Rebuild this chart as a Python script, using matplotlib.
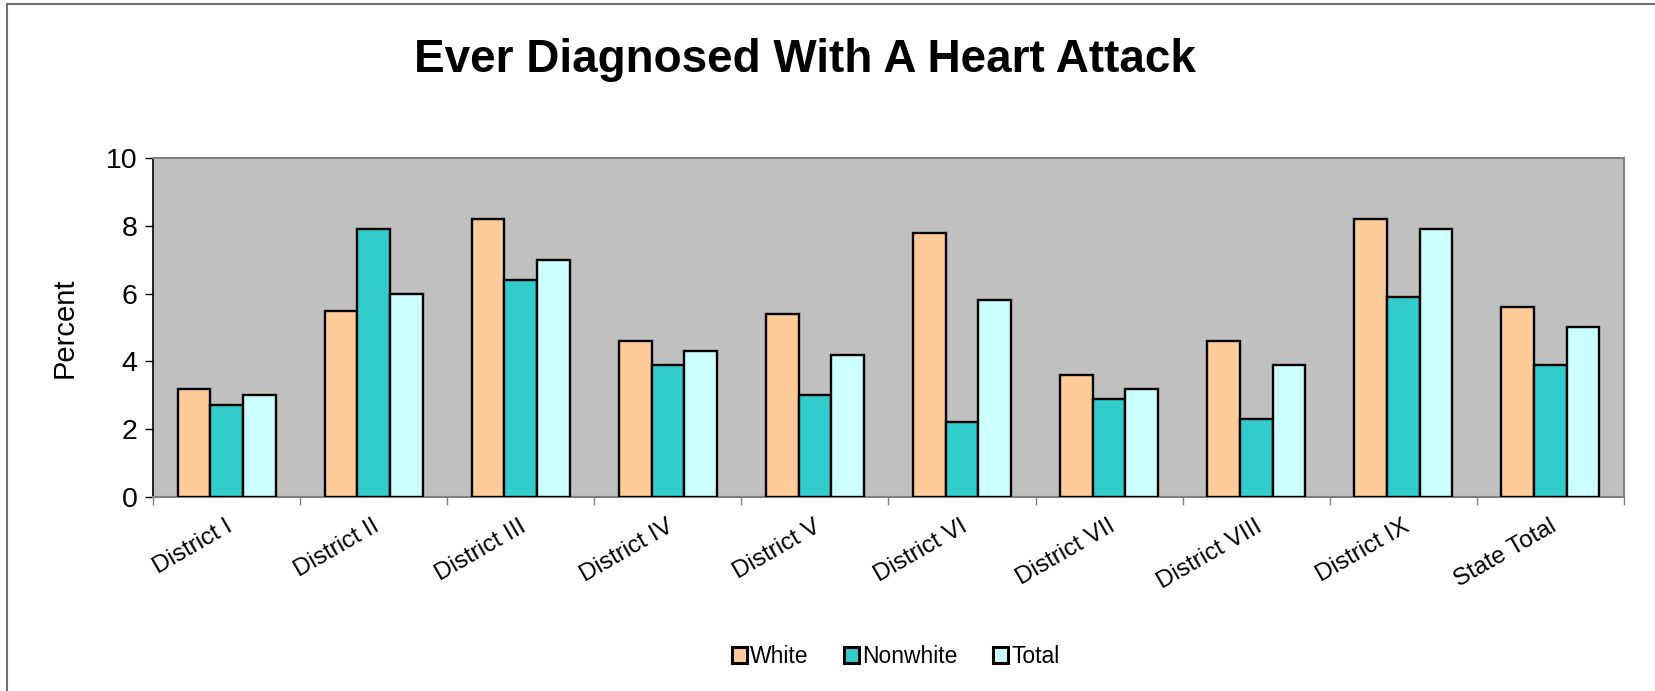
import matplotlib
matplotlib.use('Agg')
import matplotlib.pyplot as plt
import numpy as np
from matplotlib.lines import Line2D

plt.rcParams['font.family'] = ['Liberation Sans', 'DejaVu Sans']

districts = ['District I', 'District II', 'District III', 'District IV', 'District V',
             'District VI', 'District VII', 'District VIII', 'District IX', 'State Total']
white = [3.2, 5.5, 8.2, 4.6, 5.4, 7.8, 3.6, 4.6, 8.2, 5.6]
nonwhite = [2.7, 7.9, 6.4, 3.9, 3.0, 2.2, 2.9, 2.3, 5.9, 3.9]
total = [3.0, 6.0, 7.0, 4.3, 4.2, 5.8, 3.2, 3.9, 7.9, 5.0]

series = [('White', white, '#FFCC99'),
          ('Nonwhite', nonwhite, '#33CCCC'),
          ('Total', total, '#CCFFFF')]

fig = plt.figure(figsize=(16.56, 6.91), dpi=100)
ax = fig.add_axes([153 / 1656, 1 - 497 / 691, (1624 - 153) / 1656, (497 - 158) / 691])
ax.set_facecolor('#C0C0C0')

x = np.arange(len(districts))
w = 0.222
for i, (name, vals, col) in enumerate(series):
    ax.bar(x + (i - 1) * w, vals, w, color=col, edgecolor='black', linewidth=1.7,
           label=name, zorder=3)

ax.set_xlim(-0.5, len(districts) - 0.5)
ax.set_ylim(0, 10)
ax.set_yticks([0, 2, 4, 6, 8, 10])
ax.tick_params(axis='y', labelsize=20.5, length=6, width=1, color='black', pad=5)

ax.set_xticks(np.arange(-0.5, len(districts), 1.0))
ax.set_xticklabels([])
ax.tick_params(axis='x', length=6, width=1, color='#808080')
for xi, lab in zip(x, districts):
    ax.annotate(lab, xy=(xi, 0), xycoords=('data', 'axes fraction'),
                xytext=(4, -28), textcoords='offset pixels',
                rotation=30, rotation_mode='anchor', ha='right', va='center',
                fontsize=17.5)

ax.spines['left'].set_color('black')
ax.spines['left'].set_linewidth(1.2)
for s in ['top', 'right', 'bottom']:
    ax.spines[s].set_color('#808080')
    ax.spines[s].set_linewidth(1.5)

ax.set_ylabel('Percent', fontsize=21, labelpad=20)

fig.text(0.486, 0.913, 'Ever Diagnosed With A Heart Attack', ha='center', va='center',
         fontsize=33, fontweight='bold')

leg = fig.legend(loc='center', bbox_to_anchor=(0.541, 0.05), ncol=3, frameon=False,
                 fontsize=16.5, handlelength=0.65, handleheight=0.65, handletextpad=0.15,
                 columnspacing=1.55)
for h in leg.legend_handles:
    h.set_linewidth(2.2)

# outer chart border (only the top and left edges are visible)
fig.add_artist(Line2D([7 / 1656, 7 / 1656], [0, 1 - 4 / 691], transform=fig.transFigure,
                      color='#707070', linewidth=1.5))
fig.add_artist(Line2D([7 / 1656, 1], [1 - 4 / 691, 1 - 4 / 691], transform=fig.transFigure,
                      color='#707070', linewidth=1.5))

fig.savefig('out.png', dpi=100)
